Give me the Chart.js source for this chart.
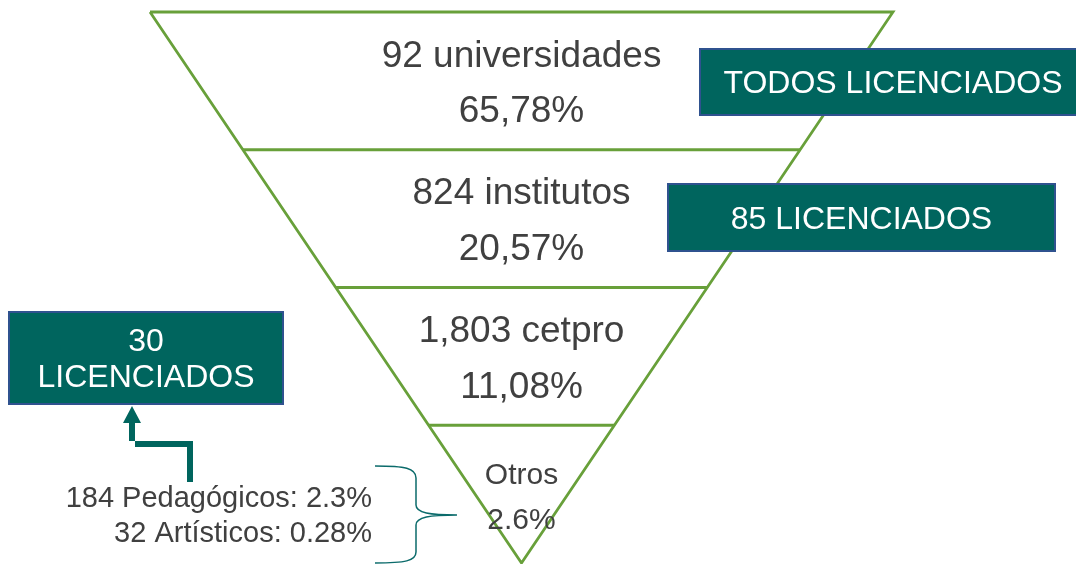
<!DOCTYPE html>
<html lang="es">
<head>
<meta charset="utf-8">
<title>Embudo de instituciones</title>
<script src="https://cdn.jsdelivr.net/npm/chart.js@4/dist/chart.umd.min.js"></script>
<style>
    html, body { margin: 0; padding: 0; background: #fff; }
    #wrap { width: 1076px; height: 564px; position: relative; }
</style>
</head>
<body>
<div id="wrap"><canvas id="funnelChart"></canvas></div>
<script>
// Funnel levels, top to bottom
const levelNames = ['92 universidades', '824 institutos', '1,803 cetpro', 'Otros'];
const levelShares = ['65,78%', '20,57%', '11,08%', '2.6%'];

// Callout boxes (text lines)
const calloutTexts = [['TODOS LICENCIADOS'], ['85 LICENCIADOS'], ['30', 'LICENCIADOS']];

// Breakdown of "Otros"
const otrosDetail = ['184 Pedagógicos: 2.3%', '32 Artísticos: 0.28%'];

const FONT = '"Liberation Sans", Arial, sans-serif';
const GREEN = '#68a03a';
const TEAL = '#00655e';
const TEXT = '#404040';

// draw text so that its cap height is centred on y
function capText(c, text, x, y, size) {
    c.font = size + 'px ' + FONT;
    c.fillText(text, x, y + size * 0.358);
}

document.addEventListener('DOMContentLoaded', function() {
    const ctx = document.getElementById('funnelChart');
    const n = levelNames.length;

    // Outline of the funnel: wide top edge, point at the bottom
    const outline = [{ x: -1, y: 0 }, { x: 1, y: 0 }, { x: 0, y: n }, { x: -1, y: 0 }];

    const datasets = [{
        label: 'funnel',
        data: outline,
        showLine: true,
        borderColor: GREEN,
        borderWidth: 2.8,
        pointRadius: 0,
        fill: false
    }];

    // Dividers between levels
    for (let i = 1; i < n; i++) {
        const half = (n - i) / n;
        datasets.push({
            label: 'divider ' + i,
            data: [{ x: -half, y: i }, { x: half, y: i }],
            showLine: true,
            borderColor: GREEN,
            borderWidth: 2.8,
            pointRadius: 0,
            fill: false
        });
    }

    // Callout box placement
    const boxes = [
        { x: 700, y: 49, w: 386, h: 66, size: 32 },
        { x: 668, y: 184, w: 387, h: 67, size: 32 },
        { x: 9, y: 312, w: 274, h: 92, size: 32 }
    ];

    const funnelLabels = {
        id: 'funnelLabels',
        afterDatasetsDraw(chart) {
            const c = chart.ctx;
            const xs = chart.scales.x;
            const ys = chart.scales.y;
            const cx = xs.getPixelForValue(0);

            c.save();
            c.textAlign = 'center';
            c.textBaseline = 'alphabetic';
            c.fillStyle = TEXT;

            levelNames.forEach((name, i) => {
                const mid = ys.getPixelForValue(i + 0.5);
                if (i === n - 1) {
                    capText(c, name, cx, mid - 21, 30);
                    capText(c, levelShares[i], cx, mid + 24, 30);
                } else {
                    capText(c, name, cx, mid - 27.5, 37);
                    capText(c, levelShares[i], cx, mid + 28, 37);
                }
            });

            // detail text for "Otros"
            c.textAlign = 'right';
            capText(c, otrosDetail[0], 372, 497, 29);
            capText(c, otrosDetail[1], 372, 532, 29);

            // brace
            c.strokeStyle = '#0b6b6b';
            c.lineWidth = 1.5;
            c.beginPath();
            c.moveTo(375, 466);
            c.bezierCurveTo(405, 466, 416, 468, 416, 478);
            c.lineTo(416, 505);
            c.bezierCurveTo(416, 513, 430, 515, 457, 515);
            c.bezierCurveTo(430, 515, 416, 517, 416, 525);
            c.lineTo(416, 552);
            c.bezierCurveTo(416, 561, 405, 563, 375, 563);
            c.stroke();

            // bent-up arrow
            c.fillStyle = TEAL;
            c.beginPath();
            c.moveTo(193, 482);
            c.lineTo(187, 482);
            c.lineTo(187, 447);
            c.lineTo(135, 447);
            c.lineTo(135, 423);
            c.lineTo(141, 423);
            c.lineTo(132, 406);
            c.lineTo(123, 423);
            c.lineTo(129, 423);
            c.lineTo(129, 441);
            c.lineTo(193, 441);
            c.closePath();
            c.fill();

            // callout boxes
            boxes.forEach((b, i) => {
                c.fillStyle = TEAL;
                c.fillRect(b.x, b.y, b.w, b.h);
                c.strokeStyle = '#2f528f';
                c.lineWidth = 2;
                c.strokeRect(b.x, b.y, b.w, b.h);

                const lines = calloutTexts[i];
                c.fillStyle = '#ffffff';
                c.textAlign = 'center';
                const lh = 36;
                const top = b.y + b.h / 2 - (lines.length - 1) * lh / 2;
                lines.forEach((t, k) => {
                    capText(c, t, b.x + b.w / 2, top + k * lh, b.size);
                });
            });

            c.restore();
        }
    };

    new Chart(ctx, {
        type: 'scatter',
        data: { datasets: datasets },
        options: {
            responsive: true,
            maintainAspectRatio: false,
            animation: false,
            layout: { padding: 0 },
            clip: false,
            plugins: {
                legend: { display: false },
                tooltip: { enabled: false },
                title: { display: false }
            },
            scales: {
                x: { type: 'linear', display: false, min: -1.4038, max: 1.4926 },
                y: { type: 'linear', display: false, reverse: true, min: -0.0871, max: 4.0073 }
            }
        },
        plugins: [funnelLabels]
    });
});
</script>
</body>
</html>
